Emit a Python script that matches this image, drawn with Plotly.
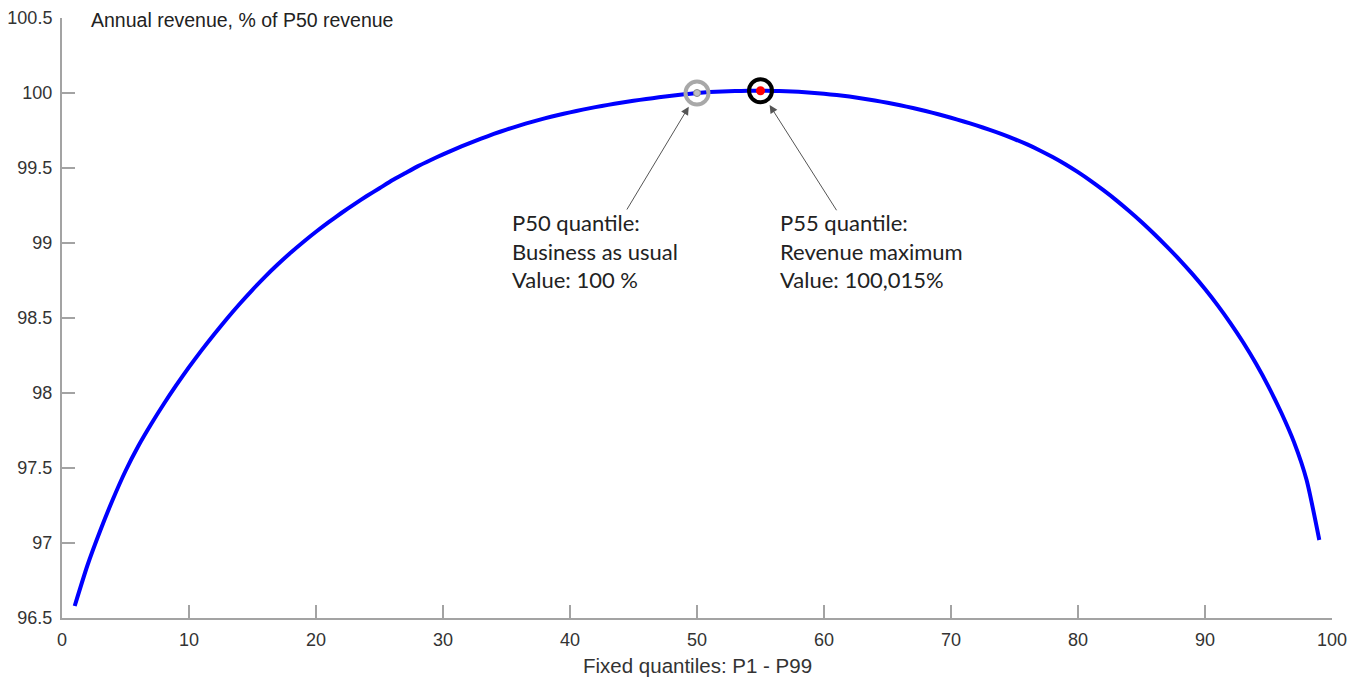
import plotly.graph_objects as go

# Fixed quantiles P1..P99
quantiles = list(range(1, 100))
revenue_pct = [
    96.58, 96.85, 97.08, 97.29, 97.48, 97.645, 97.79, 97.925, 98.052, 98.172,
    98.286, 98.394, 98.497, 98.595, 98.688, 98.776, 98.858, 98.935, 99.007, 99.075,
    99.139, 99.2, 99.258, 99.313, 99.365, 99.418, 99.465, 99.511, 99.552, 99.591,
    99.628, 99.663, 99.696, 99.727, 99.756, 99.783, 99.808, 99.831, 99.852, 99.871,
    99.889, 99.906, 99.921, 99.935, 99.948, 99.96, 99.971, 99.981, 99.991, 100.0,
    100.006, 100.01, 100.013, 100.015, 100.015, 100.014, 100.012, 100.008, 100.002, 99.995,
    99.986, 99.976, 99.964, 99.95, 99.935, 99.918, 99.9, 99.88, 99.858, 99.835,
    99.81, 99.784, 99.756, 99.726, 99.693, 99.657, 99.617, 99.573, 99.525, 99.472,
    99.414, 99.352, 99.286, 99.215, 99.14, 99.06, 98.976, 98.888, 98.794, 98.693,
    98.584, 98.466, 98.338, 98.198, 98.043, 97.87, 97.674, 97.42, 97.02,
]

p50_point = [50, 100.0]
p55_point = [55, 100.015]

x_ticks = [0, 10, 20, 30, 40, 50, 60, 70, 80, 90, 100]
y_ticks = [96.5, 97, 97.5, 98, 98.5, 99, 99.5, 100, 100.5]
y_tick_labels = ["96.5", "97", "97.5", "98", "98.5", "99", "99.5", "100", "100.5"]

p50_text = "P50 quantile:<br>Business as usual<br>Value: 100 %"
p55_text = "P55 quantile:<br>Revenue maximum<br>Value: 100,015%"

AX_COLOR = "#a3a3a3"
FAMILY = "Liberation Sans, Arial, sans-serif"
TICK_FONT = dict(family=FAMILY, size=18, color="#333333")
YTITLE_FONT = dict(family=FAMILY, size=19.5, color="#222222")
XTITLE_FONT = dict(family=FAMILY, size=20.5, color="#333333")
NOTE_FONT = dict(family="Lato, sans-serif", size=22, color="#222222")

fig = go.Figure()

fig.add_trace(go.Scatter(
    x=quantiles, y=revenue_pct, mode="lines",
    line=dict(color="#0000ff", width=4, shape="spline", smoothing=0.6),
    hoverinfo="x+y", showlegend=False,
))

# P50 marker: grey ring with grey dot
fig.add_trace(go.Scatter(
    x=[p50_point[0]], y=[p50_point[1]], mode="markers",
    marker=dict(size=23, color="rgba(0,0,0,0)", line=dict(color="#a8a8a8", width=4)),
    showlegend=False,
))
fig.add_trace(go.Scatter(
    x=[p50_point[0]], y=[p50_point[1]], mode="markers",
    marker=dict(size=7, color="#c0c0c0", line=dict(color="#8a8a8a", width=1)),
    showlegend=False,
))
# P55 marker: black ring with red dot
fig.add_trace(go.Scatter(
    x=[p55_point[0]], y=[p55_point[1]], mode="markers",
    marker=dict(size=23, color="rgba(0,0,0,0)", line=dict(color="#000000", width=4)),
    showlegend=False,
))
fig.add_trace(go.Scatter(
    x=[p55_point[0]], y=[p55_point[1]], mode="markers",
    marker=dict(size=9, color="#ff0000", line=dict(width=0)),
    showlegend=False,
))

annotations = [
    # arrows
    dict(x=p50_point[0], y=p50_point[1], xref="x", yref="y", text="",
         showarrow=True, ax=-71, ay=118, arrowhead=2, arrowsize=1.6, arrowwidth=1,
         arrowcolor="#555555", standoff=16),
    dict(x=p55_point[0], y=p55_point[1], xref="x", yref="y", text="",
         showarrow=True, ax=77, ay=121, arrowhead=2, arrowsize=1.6, arrowwidth=1,
         arrowcolor="#555555", standoff=17),
    # texts
    dict(x=35.28, y=99.23, xref="x", yref="y", text=p50_text, showarrow=False,
         xanchor="left", yanchor="top", align="left", font=NOTE_FONT, yshift=2),
    dict(x=56.38, y=99.23, xref="x", yref="y", text=p55_text, showarrow=False,
         xanchor="left", yanchor="top", align="left", font=NOTE_FONT, yshift=2),
    # y-axis title at top-left
    dict(x=0.021, y=1.0, xref="paper", yref="paper", text="Annual revenue, % of P50 revenue",
         showarrow=False, xanchor="left", yanchor="middle", yshift=-2, font=YTITLE_FONT),
    # x-axis title
    dict(x=0.5, y=0, xref="paper", yref="paper", text="Fixed quantiles: P1 - P99",
         showarrow=False, xanchor="center", yanchor="middle", yshift=-47, font=XTITLE_FONT),
]

fig.update_layout(
    width=1355, height=669,
    margin=dict(l=54, r=31, t=10, b=59),
    plot_bgcolor="white", paper_bgcolor="white",
    annotations=annotations,
    xaxis=dict(
        range=[0, 100], tickvals=x_ticks, ticks="inside", ticklen=13, tickwidth=1.5,
        tickcolor=AX_COLOR, showline=True, linecolor=AX_COLOR, linewidth=2,
        showgrid=False, zeroline=False, tickfont=TICK_FONT, automargin=False,
        ticklabelstandoff=4,
    ),
    yaxis=dict(
        range=[96.5, 100.5], tickvals=y_ticks, ticktext=y_tick_labels, ticks="inside",
        ticklen=13, tickwidth=1.5, tickcolor=AX_COLOR, showline=True, linecolor=AX_COLOR,
        linewidth=2, showgrid=False, zeroline=False, tickfont=TICK_FONT, automargin=False,
        ticklabelstandoff=4,
    ),
)

fig.write_html("out.html")
